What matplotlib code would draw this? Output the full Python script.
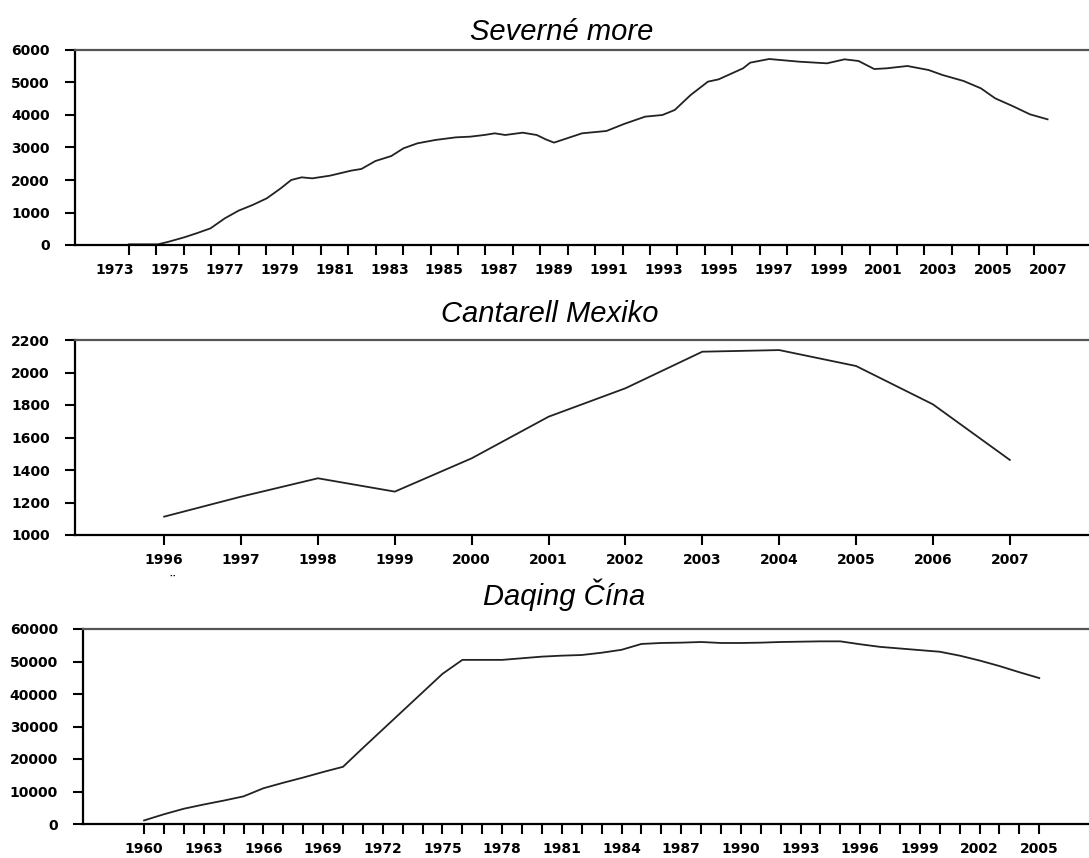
import matplotlib.pyplot as plt
import matplotlib.transforms as mtransforms
import numpy as np

# Severne more - tazba (rok, hodnota)
sm_t = [1974.0, 1975.06, 1975.45, 1976.02, 1976.47, 1976.98, 1977.5, 1978.0, 1978.51,
        1979.03, 1979.54, 1979.92, 1980.3, 1980.69, 1981.33, 1982.1, 1982.48, 1982.99,
        1983.57, 1984.01, 1984.52, 1985.17, 1985.93, 1986.44, 1986.96, 1987.34, 1987.72,
        1988.36, 1988.87, 1989.2, 1989.5, 1990.52, 1991.41, 1992.05, 1992.82, 1993.45,
        1993.9, 1994.48, 1995.11, 1995.5, 1996.39, 1996.65, 1997.34, 1998.43, 1999.45,
        2000.09, 2000.6, 2001.17, 2001.62, 2002.38, 2003.15, 2003.66, 2004.43, 2005.06,
        2005.58, 2006.21, 2006.85, 2007.49]
sm_v = [20, 20, 100, 236, 360, 513, 820, 1056, 1230,
        1436, 1744, 2000, 2082, 2051, 2133, 2287, 2340, 2584,
        2738, 2974, 3128, 3231, 3313, 3333, 3385, 3436, 3385,
        3456, 3385, 3250, 3150, 3436, 3508, 3723, 3949, 4000,
        4154, 4615, 5026, 5097, 5436, 5610, 5723, 5641, 5590,
        5713, 5662, 5415, 5436, 5508, 5385, 5231, 5046, 4821,
        4513, 4277, 4020, 3867]

# Cantarell Mexiko
ca_rok = [1996, 1997, 1998, 1999, 2000, 2001, 2002, 2003, 2004, 2005, 2006, 2007]
ca_v = [1113, 1236, 1349, 1267, 1472, 1728, 1903, 2128, 2138, 2040, 1804, 1462]

# Daqing Cina
dq_rok = list(range(1960, 2006))
dq_v = [1100, 3000, 4700, 6000, 7200, 8500, 11000, 12700, 14300, 16000,
        17600, 23400, 29100, 34800, 40500, 46200, 50500, 50500, 50500, 51000,
        51500, 51800, 52000, 52700, 53600, 55400, 55700, 55800, 56000, 55700,
        55700, 55800, 56000, 56100, 56200, 56200, 55300, 54500, 54000, 53500,
        53000, 51800, 50300, 48600, 46700, 44900]

plt.rcParams['font.family'] = ['DejaVu Sans']
W, H = 1089, 858
fig = plt.figure(figsize=(W / 100, H / 100), dpi=100)
LS = 10  # velkost popisov osi

def panel(left, top, bottom):
    ax = fig.add_axes([left / W, 1 - bottom / H, 1 - left / W, (bottom - top) / H])
    ax.spines['right'].set_visible(False)
    ax.spines['top'].set_color('#555555')
    for s in ['top', 'left', 'bottom']:
        ax.spines[s].set_linewidth(1.6)
    ax.tick_params(axis='y', direction='out', length=7, width=1.5, pad=11,
                   labelsize=LS)
    ax.tick_params(axis='x', which='major', direction='out', length=7, width=1.5,
                   pad=6, labelsize=LS)
    return ax

def bold_labels(ax):
    for lab in ax.get_xticklabels(which='both') + ax.get_yticklabels():
        lab.set_fontweight('bold')

title_font = dict(family='Liberation Sans', style='italic', size=21)

# --- Severne more ---
ax1 = panel(75, 50, 245)
ax1.plot(sm_t, sm_v, color='#222222', linewidth=1.3)
ax1.set_xlim(1972.04, 2009.0)
ax1.set_ylim(0, 6000)
ax1.set_yticks(range(0, 6001, 1000))
ax1.set_xticks(range(1974, 2008))
ax1.set_xticklabels([])
ax1.set_xticks(np.arange(1973.5, 2008, 2), minor=True)
ax1.set_xticklabels([str(r) for r in range(1973, 2008, 2)], minor=True)
ax1.tick_params(axis='x', which='minor', length=0, pad=13, labelsize=LS)
bold_labels(ax1)
ax1.set_title('Severné more', fontdict=title_font, x=0.48, pad=7)

# --- Cantarell Mexiko ---
ax2 = panel(75, 340, 535)
ax2.plot(ca_rok, ca_v, color='#222222', linewidth=1.3)
ax2.set_xlim(1994.84, 2008.03)
ax2.set_ylim(1000, 2200)
ax2.set_yticks(range(1000, 2201, 200))
ax2.set_xticks(ca_rok)
bold_labels(ax2)
ax2.set_title('Cantarell Mexiko', fontdict=title_font, x=0.468, pad=13)
trans = mtransforms.blended_transform_factory(ax2.transData, ax2.transAxes)
ax2.text(1996.1, -0.24, '¨', transform=trans, ha='center', va='center', fontsize=11)

# --- Daqing Cina ---
ax3 = panel(83, 629, 824)
ax3.plot(dq_rok, dq_v, color='#222222', linewidth=1.3)
ax3.set_xlim(1956.93, 2007.5)
ax3.set_ylim(0, 60000)
ax3.set_yticks(range(0, 60001, 10000))
ax3.set_xticks(dq_rok)
ax3.set_xticklabels([str(r) if (r - 1960) % 3 == 0 else '' for r in dq_rok])
bold_labels(ax3)
ax3.set_title('Daqing Čína', fontdict=title_font, x=0.478, pad=17)

fig.savefig('out.png', dpi=100)
